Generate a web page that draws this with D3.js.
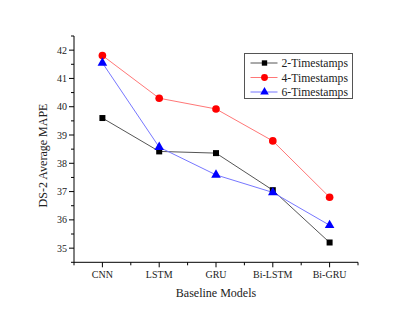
<!DOCTYPE html>
<html>
<head>
<meta charset="utf-8">
<script src="https://cdn.jsdelivr.net/npm/d3@7"></script>
<style>
  body { margin: 0; background: #fff; }
  text { font-family: "Liberation Serif", "Times New Roman", serif; fill: #222; }
</style>
</head>
<body>
<div id="chart"></div>
<script>
var svgWidth = 416;
var svgHeight = 315;

// data
var models = ["CNN", "LSTM", "GRU", "Bi-LSTM", "Bi-GRU"];
var seriesNames = ["2-Timestamps", "4-Timestamps", "6-Timestamps"];
var ts2 = [39.6, 38.42, 38.36, 37.05, 35.2];
var ts4 = [41.81, 40.3, 39.92, 38.79, 36.8];
var ts6 = [41.55, 38.57, 37.59, 36.97, 35.81];
var yTicks = [35, 36, 37, 38, 39, 40, 41, 42];

var colors = ["#000000", "#ff0000", "#0000ff"];
var lineColors = ["#555555", "#ff7777", "#7777ff"];
var symbols = [d3.symbolSquare, d3.symbolCircle, d3.symbolTriangle];
var symSizes = [36, 46, 40];

var svg = d3.select("#chart").append("svg")
  .attr("width", svgWidth)
  .attr("height", svgHeight);

var x = d3.scaleLinear().domain([0.5, 5.5]).range([74, 358]);
var y = d3.scaleLinear().domain([34.5, 42.5]).range([262.3, 36]);

// x axis: major ticks at categories, minor in between
var xAxis = svg.append("g").attr("transform", "translate(0,262.3)");
xAxis.append("line").attr("x1", 74).attr("x2", 358).attr("stroke", "#000");
xAxis.selectAll(".maj").data(models).enter().append("line")
  .attr("x1", (d, i) => x(i + 1)).attr("x2", (d, i) => x(i + 1))
  .attr("y1", 0).attr("y2", 5).attr("stroke", "#000");
xAxis.selectAll(".min").data(d3.range(0.5, 5.6, 1)).enter().append("line")
  .attr("x1", d => x(d)).attr("x2", d => x(d))
  .attr("y1", 0).attr("y2", 3).attr("stroke", "#000");
xAxis.selectAll("text").data(models).enter().append("text")
  .attr("x", (d, i) => x(i + 1)).attr("y", 15.5)
  .attr("text-anchor", "middle")
  .style("font-size", "10px")
  .text(d => d);

// y axis
var yAxis = svg.append("g").attr("transform", "translate(74,0)");
yAxis.append("line").attr("y1", 36).attr("y2", 262.3).attr("stroke", "#000");
yAxis.selectAll(".maj").data(yTicks).enter().append("line")
  .attr("y1", d => y(d)).attr("y2", d => y(d))
  .attr("x1", 0).attr("x2", -5).attr("stroke", "#000");
yAxis.selectAll(".min").data(d3.range(34.5, 42.6, 1)).enter().append("line")
  .attr("y1", d => y(d)).attr("y2", d => y(d))
  .attr("x1", 0).attr("x2", -3).attr("stroke", "#000");
yAxis.selectAll("text").data(yTicks).enter().append("text")
  .attr("x", -7).attr("y", d => y(d) + 3.5)
  .attr("text-anchor", "end")
  .style("font-size", "10px")
  .text(d => d);

// axis titles
svg.append("text")
  .attr("x", x(3)).attr("y", 297)
  .attr("text-anchor", "middle")
  .style("font-size", "12px")
  .text("Baseline Models");

svg.append("text")
  .attr("transform", "translate(47,155.5) rotate(-90)")
  .attr("text-anchor", "middle")
  .style("font-size", "12px")
  .text("DS-2 Average MAPE");

// lines and markers
var allSeries = [ts2, ts4, ts6];
var line = d3.line().x((d, i) => x(i + 1)).y(d => y(d));

allSeries.forEach(function(vals, s) {
  svg.append("path")
    .datum(vals)
    .attr("d", line)
    .attr("fill", "none")
    .attr("stroke", lineColors[s])
    .attr("stroke-width", 1);
});

allSeries.forEach(function(vals, s) {
  svg.selectAll(".m" + s).data(vals).enter().append("path")
    .attr("d", d3.symbol().type(symbols[s]).size(symSizes[s]))
    .attr("transform", (d, i) => "translate(" + x(i + 1) + "," + y(d) + ")")
    .attr("fill", colors[s]);
});

// legend
var legend = svg.append("g").attr("transform", "translate(244.5,53.5)");
legend.append("rect")
  .attr("width", 108).attr("height", 45)
  .attr("fill", "#fff").attr("stroke", "#555").attr("stroke-width", 1);

seriesNames.forEach(function(name, s) {
  var ly = 9.5 + s * 14.5;
  legend.append("line")
    .attr("x1", 6).attr("x2", 33).attr("y1", ly).attr("y2", ly)
    .attr("stroke", lineColors[s]);
  legend.append("path")
    .attr("d", d3.symbol().type(symbols[s]).size(symSizes[s] * 0.8))
    .attr("transform", "translate(20," + ly + ")")
    .attr("fill", colors[s]);
  legend.append("text")
    .attr("x", 37).attr("y", ly + 4)
    .style("font-size", "11.7px")
    .text(name);
});
</script>
</body>
</html>
